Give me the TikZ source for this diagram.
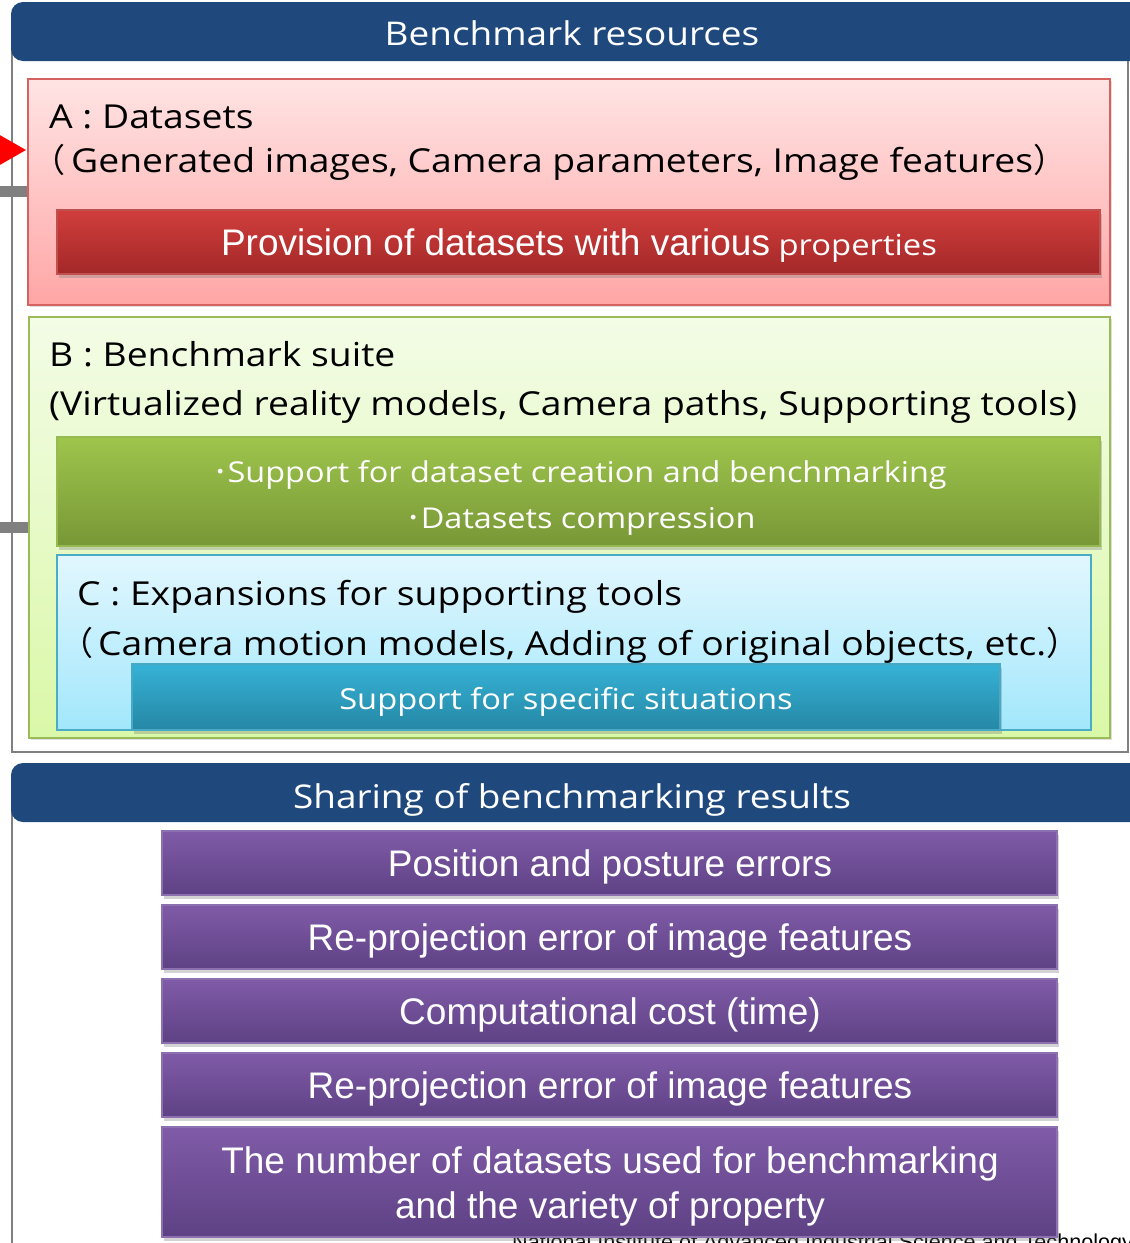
\documentclass[tikz,border=0pt]{standalone}
\usepackage{fontspec}
\setmainfont[FakeStretch=1.13]{Open Sans}
\newfontfamily\arialf{Liberation Sans}
\newfontfamily\cjk{Noto Sans CJK JP}
\usetikzlibrary{shadows}

\definecolor{hdrblue}{RGB}{31,73,125}
\definecolor{framegray}{RGB}{128,128,128}
\definecolor{aborder}{RGB}{214,98,95}
\definecolor{atop}{RGB}{255,228,228}
\definecolor{abot}{RGB}{255,166,166}
\definecolor{redtop}{RGB}{208,62,60}
\definecolor{redbot}{RGB}{163,40,40}
\definecolor{redline}{RGB}{192,80,77}
\definecolor{bborder}{RGB}{155,187,89}
\definecolor{btop}{RGB}{243,252,230}
\definecolor{bbot}{RGB}{218,248,168}
\definecolor{greentop}{RGB}{158,197,76}
\definecolor{greenbot}{RGB}{120,151,55}
\definecolor{greenline}{RGB}{150,185,80}
\definecolor{cborder}{RGB}{75,172,198}
\definecolor{ctop}{RGB}{226,247,254}
\definecolor{cbot}{RGB}{162,231,252}
\definecolor{bluetop}{RGB}{54,178,214}
\definecolor{bluebot}{RGB}{37,135,165}
\definecolor{blueline}{RGB}{70,170,198}
\definecolor{purptop}{RGB}{128,91,168}
\definecolor{purpbot}{RGB}{94,65,132}
\definecolor{purpline}{RGB}{140,112,175}
\definecolor{arrowred}{RGB}{255,0,0}

\tikzset{
  header/.style={fill=hdrblue, rounded corners=12pt},
  panelA/.style={draw=aborder, line width=2pt, top color=atop, bottom color=abot,
                 drop shadow={shadow xshift=2pt, shadow yshift=-2pt, opacity=0.25}},
  panelB/.style={draw=bborder, line width=2pt, top color=btop, bottom color=bbot,
                 drop shadow={shadow xshift=2pt, shadow yshift=-2pt, opacity=0.25}},
  panelC/.style={draw=cborder, line width=2pt, top color=ctop, bottom color=cbot},
  bar/.style={line width=1.5pt,
              drop shadow={shadow xshift=2pt, shadow yshift=-4pt, opacity=0.35}},
  redbar/.style={bar, draw=redline, top color=redtop, bottom color=redbot},
  greenbar/.style={bar, draw=greenline, top color=greentop, bottom color=greenbot},
  bluebar/.style={bar, draw=blueline, top color=bluetop, bottom color=bluebot},
  purplebar/.style={bar, draw=purpline, top color=purptop, bottom color=purpbot},
  lefttext/.style={anchor=base west, inner sep=0pt, text=black, font=\fontsize{33}{38}\selectfont},
  hdrtext/.style={anchor=base, inner sep=0pt, text=white, font=\fontsize{32.7}{40}\selectfont},
  bartext/.style={anchor=base, inner sep=0pt, text=white},
  purptext/.style={anchor=base, inner sep=0pt, text=white, font=\arialf\fontsize{37}{44}\selectfont},
}

\begin{document}
\begin{tikzpicture}[x=1pt, y=-1pt]
\useasboundingbox (0,0) rectangle (1130,1243);
\begin{scope}
\clip (0,0) rectangle (1130,1243);

% ---------- Benchmark resources ----------
\draw[framegray, line width=2pt] (12,40) -- (12,752) -- (1128,752) -- (1128,40);
\fill[header] (11,2) rectangle (1160,61);
\node[hdrtext] (hdrres) at (572,45) {Benchmark resources};

% incoming connectors at the left edge
\fill[arrowred] (-2,134) -- (26,150) -- (-2,166) -- cycle;
\fill[framegray] (-2,186) rectangle (29,197);
\fill[framegray] (-2,522) rectangle (29,533);

% A : Datasets
\path[panelA] (28,79) rectangle (1110,305);
\node[lefttext] (atitle) at (49,128) {A : Datasets};
\node[lefttext] (asub) at (32,172)
  {{\cjk （}\hspace{6pt}Generated images, Camera parameters, Image features{\cjk ）}};
\path[redbar] (57,210) rectangle (1100,274);
\node[bartext] (aprov) at (579,255)
  {{\arialf\fontsize{37}{42}\selectfont Provision of datasets with various}{\fontsize{29}{36}\selectfont{} properties}};

% B : Benchmark suite
\path[panelB] (29,317) rectangle (1110,738);
\node[lefttext] (btitle) at (49,366) {B : Benchmark suite};
\node[lefttext] (bsub) at (49,415)
  {(Virtualized reality models, Camera paths, Supporting tools)};
\path[greenbar] (57,437) rectangle (1100,546);
\node[bartext, font=\fontsize{28.7}{36}\selectfont] (bsupp) at (580,482)
  {{\cjk ･}Support for dataset creation and benchmarking};
\node[bartext, font=\fontsize{28.7}{36}\selectfont] (bcomp) at (581,528)
  {{\cjk ･}Datasets compression};

% C : Expansions for supporting tools
\path[panelC] (57,555) rectangle (1091,730);
\node[lefttext] (ctitle) at (77,605) {C : Expansions for supporting tools};
\node[lefttext] (csub) at (60,655)
  {{\cjk （}\hspace{5pt}Camera motion models, Adding of original objects, etc.{\cjk ）}};
\path[bluebar] (132,664) rectangle (1000,730);
\node[bartext, font=\fontsize{28.9}{36}\selectfont] (cspec) at (566,709) {Support for specific situations};

% ---------- Sharing of benchmarking results ----------
\draw[framegray, line width=2pt] (12,800) -- (12,1250);
\fill[header] (11,763) rectangle (1160,822);
\node[hdrtext] (hdrshare) at (572,808) {Sharing of benchmarking results};

\node[anchor=base west, inner sep=0pt, text=black, font=\arialf\fontsize{21.6}{26}\selectfont]
  (footer) at (512,1249) {National Institute of Advanced Industrial Science and Technology};

\path[purplebar] (162,831) rectangle (1057,895);
\node[purptext] (r1) at (610,876) {Position and posture errors};
\path[purplebar] (162,905) rectangle (1057,969);
\node[purptext] (r2) at (610,950) {Re-projection error of image features};
\path[purplebar] (162,979) rectangle (1057,1043);
\node[purptext] (r3) at (610,1024) {Computational cost (time)};
\path[purplebar] (162,1053) rectangle (1057,1117);
\node[purptext] (r4) at (610,1098) {Re-projection error of image features};
\path[purplebar] (162,1127) rectangle (1057,1237);
\node[purptext] (r5a) at (610,1173) {The number of datasets used for benchmarking};
\node[purptext] (r5b) at (610,1218) {and the variety of property};
\end{scope}
\end{tikzpicture}
\end{document}
